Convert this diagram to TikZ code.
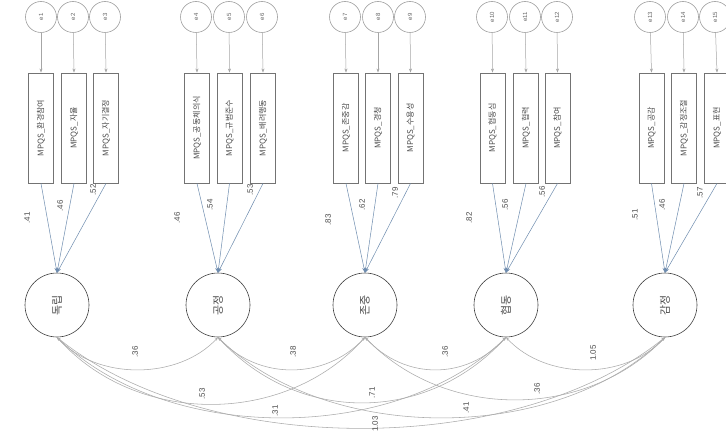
\documentclass[tikz,border=0pt]{standalone}
\usepackage{fontspec}
\setmainfont{Liberation Sans}
\newfontfamily\kr{Noto Sans CJK KR}
\usetikzlibrary{arrows.meta}
\definecolor{ldblue}{RGB}{110,140,175}
\tikzset{
  errc/.style={circle, draw=gray!75, line width=0.6pt, minimum size=31pt, inner sep=0pt,
    font=\fontsize{6}{6}\selectfont, text=gray!80!black},
  obs/.style={rectangle, draw=gray!90!black, line width=0.9pt,
    minimum width=25pt, minimum height=110pt, inner sep=0pt, font=\kr\fontsize{8}{9}\selectfont, text=gray!60!black},
  lat/.style={circle, draw=black!75, line width=0.6pt, minimum size=64pt, inner sep=0pt,
    font=\kr\fontsize{11}{12}\selectfont, text=gray!60!black},
  earr/.style={-{Stealth[length=4pt,width=3pt]}, draw=gray!70, line width=0.5pt},
  larr/.style={-{Stealth[length=5pt,width=3.5pt]}, draw=ldblue, line width=0.5pt},
  cov/.style={{Stealth[length=3.5pt,width=2.5pt]}-{Stealth[length=3.5pt,width=2.5pt]}, draw=gray!65, line width=0.55pt},
  num/.style={font=\fontsize{8}{9}\selectfont, text=gray!60!black, rotate=90, inner sep=1pt}
}
\begin{document}
\begin{tikzpicture}[x=1pt,y=-1pt]
\useasboundingbox[fill=white] (0,0) rectangle (726,433);

% ---------- group 1 ----------
\node[errc] (e1) at (41,17) {\rotatebox{90}{e1}};
\node[errc] (e2) at (73,17) {\rotatebox{90}{e2}};
\node[errc] (e3) at (105,17) {\rotatebox{90}{e3}};
\node[obs] (o1) at (41,128) {\rotatebox{90}{MPQS\_환경참여}};
\node[obs] (o2) at (74,128) {\rotatebox{90}{MPQS\_자율}};
\node[obs] (o3) at (106,128) {\rotatebox{90}{MPQS\_자기결정}};
% ---------- group 2 ----------
\node[errc] (e4) at (196,17) {\rotatebox{90}{e4}};
\node[errc] (e5) at (229,17) {\rotatebox{90}{e5}};
\node[errc] (e6) at (262,17) {\rotatebox{90}{e6}};
\node[obs] (o4) at (197,128) {\rotatebox{90}{MPQS\_공동체의식}};
\node[obs] (o5) at (229.5,128) {\rotatebox{90}{MPQS\_규범준수}};
\node[obs] (o6) at (263,128) {\rotatebox{90}{MPQS\_배려행동}};
% ---------- group 3 ----------
\node[errc] (e7) at (345,17) {\rotatebox{90}{e7}};
\node[errc] (e8) at (378,17) {\rotatebox{90}{e8}};
\node[errc] (e9) at (410,17) {\rotatebox{90}{e9}};
\node[obs] (o7) at (346,128) {\rotatebox{90}{MPQS\_존중감}};
\node[obs] (o8) at (378,128) {\rotatebox{90}{MPQS\_경청}};
\node[obs] (o9) at (410.5,128) {\rotatebox{90}{MPQS\_수용성}};
% ---------- group 4 ----------
\node[errc] (e10) at (492,17) {\rotatebox{90}{e10}};
\node[errc] (e11) at (525,17) {\rotatebox{90}{e11}};
\node[errc] (e12) at (557,17) {\rotatebox{90}{e12}};
\node[obs] (o10) at (492.5,128) {\rotatebox{90}{MPQS\_협동심}};
\node[obs] (o11) at (526,128) {\rotatebox{90}{MPQS\_협력}};
\node[obs] (o12) at (557.5,128) {\rotatebox{90}{MPQS\_참여}};
% ---------- group 5 ----------
\node[errc] (e13) at (650,17) {\rotatebox{90}{e13}};
\node[errc] (e14) at (683,17) {\rotatebox{90}{e14}};
\node[errc] (e15) at (715,17) {\rotatebox{90}{e15}};
\node[obs] (o13) at (651.5,128) {\rotatebox{90}{MPQS\_공감}};
\node[obs] (o14) at (684,128) {\rotatebox{90}{MPQS\_감정조절}};
\node[obs] (o15) at (717,128) {\rotatebox{90}{MPQS\_표현}};

% error arrows
\foreach \i in {1,...,15} \draw[earr] (e\i) -- (o\i.north);

% latent variables
\node[lat] (L1) at (57,305) {\rotatebox{90}{독립}};
\node[lat] (L2) at (218,305) {\rotatebox{90}{공정}};
\node[lat] (L3) at (365,305) {\rotatebox{90}{존중}};
\node[lat] (L4) at (506,305) {\rotatebox{90}{협동}};
\node[lat] (L5) at (665,305) {\rotatebox{90}{감정}};

% loadings
\foreach \o/\L in {1/1,2/1,3/1,4/2,5/2,6/2,7/3,8/3,9/3,10/4,11/4,12/4,13/5,14/5,15/5}
  \draw[larr] (o\o.south) -- (L\L.north);

\node[num] at (27,218) {.41};
\node[num] at (60,206) {.46};
\node[num] at (93,190) {.52};
\node[num] at (177,218) {.46};
\node[num] at (210,205) {.54};
\node[num] at (250,190) {.53};
\node[num] at (328,220) {.83};
\node[num] at (362,205) {.62};
\node[num] at (395,193) {.79};
\node[num] at (469,218) {.82};
\node[num] at (505,205) {.56};
\node[num] at (542,192) {.56};
\node[num] at (635,215) {.51};
\node[num] at (662,205) {.46};
\node[num] at (700,193) {.57};

% covariances
\draw[cov] (L1.south) .. controls +(40,43) and +(-40,43) .. (L2.south);
\draw[cov] (L2.south) .. controls +(40,43) and +(-40,43) .. (L3.south);
\draw[cov] (L3.south) .. controls +(40,43) and +(-40,43) .. (L4.south);
\draw[cov] (L4.south) .. controls +(40,43) and +(-40,43) .. (L5.south);
\draw[cov] (L1.south) .. controls +(80,89) and +(-80,89) .. (L3.south);
\draw[cov] (L2.south) .. controls +(80,87) and +(-80,87) .. (L4.south);
\draw[cov] (L3.south) .. controls +(80,83) and +(-80,83) .. (L5.south);
\draw[cov] (L1.south) .. controls +(110,107) and +(-110,107) .. (L4.south);
\draw[cov] (L2.south) .. controls +(110,107) and +(-110,107) .. (L5.south);
\draw[cov] (L1.south) .. controls +(150,121) and +(-150,121) .. (L5.south);

\node[num] at (135,352) {.36};
\node[num] at (293,352) {.38};
\node[num] at (445,352) {.36};
\node[num] at (593,353) {1.05};
\node[num] at (202,394) {.53};
\node[num] at (372,393) {.71};
\node[num] at (537,389) {.36};
\node[num] at (275,411) {.31};
\node[num] at (466,408) {.41};
\node[num] at (375,424) {1.03};
\end{tikzpicture}
\end{document}
